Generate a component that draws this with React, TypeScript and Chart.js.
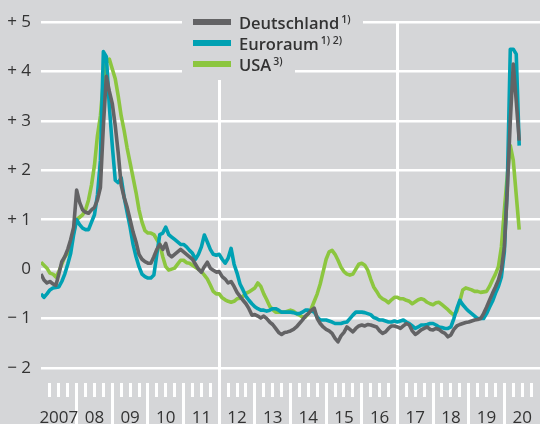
import React, { useEffect, useRef } from "react";
import { Chart, registerables } from "chart.js";

Chart.register(...registerables);

// Year labels (one per calendar year, 2007 .. 2020)
const yearLabels = ["2007", "08", "09", "10", "11", "12", "13", "14", "15", "16", "17", "18", "19", "20"];

// Monthly values, Jan 2007 .. Jun 2020 (percent)
const deutschland = [
  -0.1, -0.22, -0.28, -0.25, -0.3, -0.33, -0.1, 0.15, 0.25, 0.4, 0.6, 0.85,
  1.6, 1.35, 1.2, 1.15, 1.13, 1.2, 1.25, 1.4, 1.65, 2.9, 3.9, 3.6,
  3.35, 2.9, 2.35, 1.7, 1.45, 1.25, 1.0, 0.75, 0.55, 0.3, 0.2, 0.15,
  0.12, 0.12, 0.25, 0.4, 0.5, 0.4, 0.52, 0.3, 0.25, 0.3, 0.35, 0.4,
  0.35, 0.3, 0.25, 0.2, 0.1, 0.0, -0.06, 0.05, 0.14, 0.02, -0.02, -0.06,
  -0.05, -0.15, -0.2, -0.28, -0.25, -0.35, -0.47, -0.55, -0.63, -0.7, -0.8, -0.93,
  -0.92, -0.95, -0.99, -0.95, -1.0, -1.07, -1.12, -1.2, -1.28, -1.32, -1.28, -1.27,
  -1.25, -1.22, -1.17, -1.1, -1.03, -0.95, -0.9, -0.83, -0.79, -1.0, -1.1, -1.17,
  -1.22, -1.25, -1.3, -1.4, -1.47, -1.35, -1.28, -1.17, -1.22, -1.27, -1.2, -1.15,
  -1.13, -1.15, -1.12, -1.13, -1.15, -1.17, -1.25, -1.3, -1.27, -1.2, -1.15, -1.15,
  -1.17, -1.2, -1.15, -1.1, -1.13, -1.25, -1.32, -1.28, -1.23, -1.2, -1.17, -1.22,
  -1.23, -1.2, -1.22, -1.27, -1.3, -1.37, -1.33, -1.22, -1.15, -1.12, -1.1, -1.08,
  -1.07, -1.05, -1.03, -1.02, -1.0, -0.9, -0.77, -0.63, -0.49, -0.36, -0.22, 0.0,
  0.45, 1.6, 3.0, 4.15, 3.4, 2.6,
];

const euroraum = [
  -0.5, -0.57, -0.5, -0.42, -0.38, -0.37, -0.36, -0.25, -0.1, 0.1, 0.32, 0.7,
  1.0, 0.9, 0.83, 0.8, 0.8, 0.95, 1.1, 1.5, 2.2, 4.4, 4.3, 3.3,
  2.5, 1.8, 1.75, 1.85, 1.45, 1.15, 0.85, 0.5, 0.25, 0.05, -0.1, -0.15,
  -0.18, -0.18, -0.12, 0.3, 0.7, 0.73, 0.85, 0.7, 0.65, 0.6, 0.55, 0.5,
  0.5, 0.45, 0.38, 0.32, 0.2, 0.3, 0.45, 0.69, 0.55, 0.4, 0.3, 0.28,
  0.3, 0.2, 0.12, 0.22, 0.42, 0.1, -0.08, -0.3, -0.42, -0.55, -0.63, -0.7,
  -0.76, -0.8, -0.83, -0.83, -0.85, -0.83, -0.8, -0.8, -0.83, -0.87, -0.87, -0.87,
  -0.87, -0.88, -0.9, -0.9, -0.87, -0.83, -0.83, -0.85, -0.87, -0.97, -1.03, -1.03,
  -1.03, -1.05, -1.07, -1.1, -1.1, -1.1, -1.08, -1.07, -1.0, -0.93, -0.87, -0.87,
  -0.87, -0.88, -0.9, -0.92, -0.98, -1.0, -1.03, -1.03, -1.05, -1.07, -1.07, -1.05,
  -1.07, -1.05, -1.03, -1.07, -1.1, -1.15, -1.2, -1.17, -1.13, -1.13, -1.12, -1.1,
  -1.1, -1.13, -1.17, -1.18, -1.2, -1.2, -1.17, -1.0, -0.8, -0.63, -0.72, -0.79,
  -0.85, -0.9, -0.95, -1.0, -1.0, -1.0, -0.9, -0.77, -0.65, -0.49, -0.35, -0.16,
  0.35, 1.7, 4.45, 4.45, 4.35, 2.5,
];

const usa = [
  0.14, 0.08, 0.02, -0.08, -0.1, -0.16, -0.05, 0.1, 0.25, 0.32, 0.55, 0.75,
  1.0, 1.05, 1.1, 1.2, 1.4, 1.7, 2.1, 2.7, 3.1, 3.8, 4.2, 4.25,
  4.05, 3.85, 3.5, 3.1, 2.8, 2.45, 2.15, 1.85, 1.55, 1.2, 0.95, 0.78,
  0.73, 0.73, 0.7, 0.6, 0.5, 0.25, 0.05, -0.02, 0.0, 0.02, 0.1, 0.18,
  0.18, 0.13, 0.12, 0.08, 0.04, 0.0, -0.05, -0.12, -0.2, -0.32, -0.45, -0.5,
  -0.5, -0.58, -0.62, -0.65, -0.67, -0.65, -0.6, -0.59, -0.55, -0.49, -0.46, -0.42,
  -0.38, -0.28, -0.35, -0.5, -0.62, -0.75, -0.82, -0.87, -0.87, -0.87, -0.87, -0.85,
  -0.83, -0.85, -0.9, -0.93, -0.97, -0.97, -0.9, -0.8, -0.65, -0.5, -0.3, -0.05,
  0.2, 0.35, 0.38, 0.3, 0.18, 0.04, -0.05, -0.1, -0.12, -0.1, 0.0, 0.1,
  0.12, 0.08, -0.02, -0.2, -0.36, -0.45, -0.55, -0.6, -0.63, -0.68, -0.62, -0.57,
  -0.57, -0.6, -0.6, -0.63, -0.65, -0.7, -0.66, -0.62, -0.6, -0.62, -0.67, -0.7,
  -0.72, -0.68, -0.67, -0.72, -0.77, -0.82, -0.88, -0.93, -0.85, -0.65, -0.42, -0.38,
  -0.4, -0.42, -0.45, -0.45, -0.47, -0.46, -0.45, -0.35, -0.22, -0.1, 0.05, 0.45,
  1.2, 1.9, 2.5, 2.2, 1.5, 0.8,
];

const yTickValues = [-2, -1, 0, 1, 2, 3, 4, 5];
const seriesNames = ["Deutschland", "Euroraum", "USA"];
const seriesNotes = ["1)", "1) 2)", "3)"];
const seriesColors = ["#636365", "#00a1b3", "#8cc63f"];
const highlightedMonths = [60, 120];

const BG = "#d5d6d8";
const TEXT = "#333333";
const FONT = "'Open Sans', 'Noto Sans', sans-serif";

export default function App() {
  const ref = useRef<HTMLCanvasElement>(null);

  useEffect(() => {
    const months = deutschland.map((_, i) => i);
    const quarterTicks: number[] = [];
    for (let m = 3; m < yearLabels.length * 12; m += 3) quarterTicks.push(m);
    const series = [deutschland, euroraum, usa];

    const chart = new Chart(ref.current as HTMLCanvasElement, {
      type: "line",
      data: {
        labels: months,
        datasets: series.map((d, i) => ({
          label: seriesNames[i],
          data: d,
          borderColor: seriesColors[i],
          backgroundColor: seriesColors[i],
          borderWidth: 3.6,
          pointRadius: 0,
          tension: 0,
          borderJoinStyle: "round" as const,
          fill: false,
        })),
      },
      options: {
        animation: false,
        responsive: false,
        layout: { padding: { top: 22, left: 0, right: 0, bottom: 0 } },
        plugins: { legend: { display: false }, tooltip: { enabled: false } },
        scales: {
          x: {
            type: "linear",
            min: 0,
            max: yearLabels.length * 12,
            afterBuildTicks: (s: any) => {
              s.ticks = quarterTicks.map((v) => ({ value: v }));
            },
            afterFit: (s: any) => {
              s.height = 41;
            },
            border: { display: false },
            grid: {
              drawOnChartArea: true,
              color: (ctx: any) =>
                highlightedMonths.includes(ctx.tick?.value) ? "#ffffff" : "rgba(0,0,0,0)",
              lineWidth: 3,
              tickColor: "#ffffff",
              tickWidth: 3,
              tickLength: 41,
              tickBorderDash: (ctx: any) => (ctx.tick && ctx.tick.value % 12 === 0 ? [] : [14, 100]),
            },
            ticks: {
              autoSkip: false,
              maxRotation: 0,
              minRotation: 0,
              padding: -16,
              color: TEXT,
              font: { family: FONT, size: 17 },
              callback: (v: any) => {
                const n = Number(v);
                return n % 12 === 6 ? yearLabels[Math.floor(n / 12)] : "";
              },
            },
          },
          y: {
            min: -2.3035,
            max: 5,
            afterBuildTicks: (s: any) => {
              s.ticks = yTickValues.map((v) => ({ value: v }));
            },
            afterFit: (s: any) => {
              s.width = 41;
            },
            border: { display: false },
            grid: { color: "#ffffff", lineWidth: 2.6, drawTicks: false },
            ticks: {
              padding: 10,
              color: TEXT,
              font: { family: FONT, size: 17 },
              callback: (v: any) => {
                const n = Number(v);
                if (n > 0) return "+ " + n;
                if (n < 0) return "\u2212 " + Math.abs(n);
                return "0";
              },
            },
          },
        },
      },
    });
    return () => chart.destroy();
  }, []);

  return (
    <div style={{ position: "absolute", left: 0, top: 0, width: 540, height: 424, background: BG, overflow: "hidden" }}>
      <canvas ref={ref} width={540} height={424} style={{ display: "block", width: 540, height: 424 }} />
      <div style={{ position: "absolute", left: 182, top: 6 }}>
        {seriesNames.map((name, i) => (
          <div
            key={name}
            style={{
              display: "flex",
              alignItems: "center",
              background: BG,
              width: "fit-content",
              height: 21,
              paddingLeft: 11,
              paddingRight: 12,
              paddingTop: i === 0 ? 5.5 : 0,
              paddingBottom: i === 2 ? 5.5 : 0,
            }}
          >
            <span style={{ display: "inline-block", width: 38, height: 6, background: seriesColors[i], marginRight: 8 }} />
            <span style={{ fontFamily: FONT, fontWeight: 600, fontSize: 16.5, color: TEXT, whiteSpace: "nowrap", lineHeight: "21px" }}>
              {name}
              <sup style={{ fontSize: 10.5, fontWeight: 600, marginLeft: 2, verticalAlign: 6, lineHeight: 0 }}>{seriesNotes[i]}</sup>
            </span>
          </div>
        ))}
      </div>
    </div>
  );
}
